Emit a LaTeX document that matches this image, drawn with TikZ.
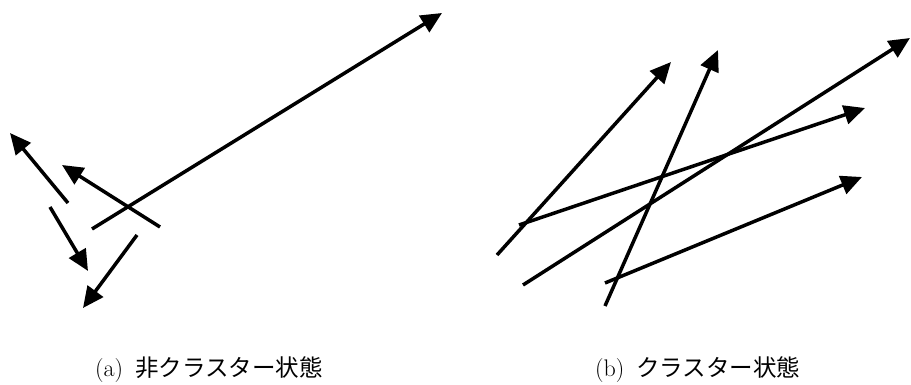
\documentclass[tikz,border=0pt]{standalone}
\usepackage{fontspec}
\newfontfamily\cjk{Noto Sans CJK JP}
\usetikzlibrary{arrows.meta}
\tikzset{
  vec/.style={line width=3.5pt, -{Triangle[length=21pt,width=19pt]}},
  caption/.style={font=\fontsize{24}{28}\selectfont, inner sep=0pt, anchor=base west}
}
\newcommand{\jp}[1]{{\cjk\fontsize{23.5}{28}\selectfont #1}}
\begin{document}
\begin{tikzpicture}[x=1pt,y=-1pt]
\useasboundingbox (0,0) rectangle (911,385);
% (a) non-cluster state
\coordinate (a1s) at (68,203);  \coordinate (a1e) at (10,133);
\coordinate (a2s) at (50,207);  \coordinate (a2e) at (88,271);
\coordinate (a3s) at (160,227); \coordinate (a3e) at (62,165);
\coordinate (a4s) at (137,235); \coordinate (a4e) at (83,308);
\coordinate (a5s) at (92,229);  \coordinate (a5e) at (442,13);
\draw[vec] (a1s) -- (a1e);
\draw[vec] (a2s) -- (a2e);
\draw[vec] (a3s) -- (a3e);
\draw[vec] (a4s) -- (a4e);
\draw[vec] (a5s) -- (a5e);
% (b) cluster state
\coordinate (b1s) at (497,255); \coordinate (b1e) at (671,62);
\coordinate (b2s) at (605,306); \coordinate (b2e) at (718,50);
\coordinate (b3s) at (523,285); \coordinate (b3e) at (910,38);
\coordinate (b4s) at (519,225); \coordinate (b4e) at (865,108);
\coordinate (b5s) at (605,283); \coordinate (b5e) at (862,177);
\draw[vec] (b1s) -- (b1e);
\draw[vec] (b2s) -- (b2e);
\draw[vec] (b3s) -- (b3e);
\draw[vec] (b4s) -- (b4e);
\draw[vec] (b5s) -- (b5e);
% captions
\node[caption] (capa) at (95,376) {(a)\hspace{12pt}\jp{非クラスター状態}};
\node[caption] (capb) at (595,376) {(b)\hspace{12pt}\jp{クラスター状態}};
\end{tikzpicture}
\end{document}
